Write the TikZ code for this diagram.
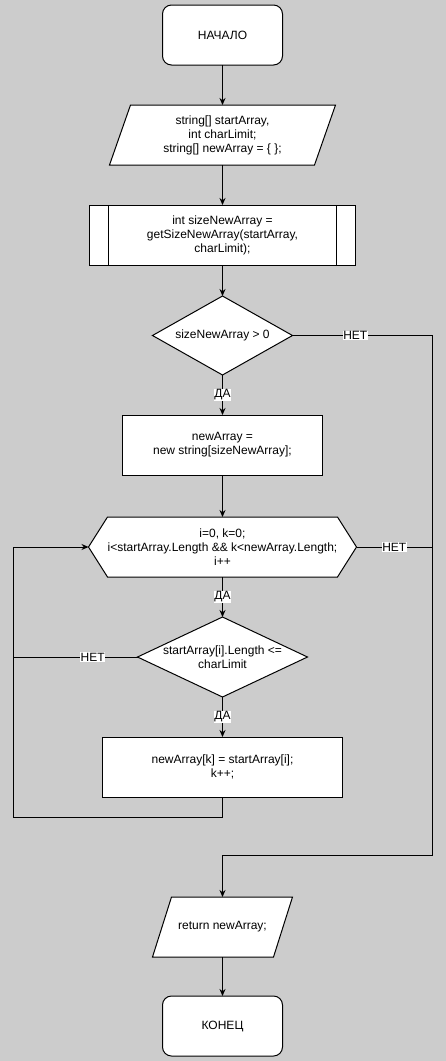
\documentclass[tikz,border=0pt]{standalone}
\usepackage{fontspec}
\setmainfont{Liberation Sans}
\usetikzlibrary{positioning,shapes.geometric,arrows.meta,backgrounds}
\definecolor{canvas}{HTML}{CCCCCC}
\tikzset{
  txt/.style     = {font=\fontsize{12}{14}\selectfont, align=center, outer sep=0pt},
  box/.style     = {txt, draw=black, fill=white, line width=1pt, inner sep=2pt},
  term/.style    = {box, rounded corners=9pt, minimum width=120pt, minimum height=60pt},
  io/.style      = {txt, inner sep=2pt, minimum height=60pt},
  proc/.style    = {box, minimum height=60pt},
  decide/.style  = {box, diamond, inner sep=0pt},
  loophex/.style = {txt, inner sep=2pt, minimum width=268pt, minimum height=60pt},
  outline/.style = {draw=black, fill=white, line width=1pt},
  flow/.style    = {-{Stealth[length=7pt,width=6pt]}, line width=1pt},
  link/.style    = {line width=1pt},
  lbl/.style     = {txt, fill=white, inner sep=0.5pt},
}
\begin{document}
\begin{tikzpicture}[x=1pt, y=1pt]
    \begin{pgfonlayer}{background}
      \fill[canvas] (0,0) rectangle (446,-1061);
    \end{pgfonlayer}
    % main column
    \node[term] (start) at (222.5,-35) {НАЧАЛО};
    \node[io, minimum width=226pt, below=40pt of start] (input) {string[] startArray,\\int charLimit;\\string[] newArray = \{ \};};
    \node[proc, minimum width=266pt, below=40pt of input] (size) {int sizeNewArray =\\getSizeNewArray(startArray,\\charLimit);};
    \node[decide, shape aspect=1.77, minimum width=140pt, minimum height=79pt, below=31pt of size] (cond) {sizeNewArray > 0};
    \node[proc, minimum width=200pt, below=40pt of cond] (alloc) {newArray =\\new string[sizeNewArray];};
    \node[loophex, below=42pt of alloc] (loop) {i=0, k=0;\\i<startArray.Length \&\& k<newArray.Length;\\i++};
    \node[decide, minimum width=170pt, minimum height=80pt, below=40pt of loop,
          label={[txt]center:{startArray[i].Length <=\\charLimit}}] (check) {};
    \node[proc, minimum width=240pt, below=40pt of check] (copy) {newArray[k] = startArray[i];\\k++;};
    \node[io, minimum width=140pt, below=100pt of copy] (ret) {return newArray;};
    \node[term, below=39pt of ret] (stop) {КОНЕЦ};
    % rails for the side branches
    \coordinate (leftrail) at (13,0);
    \coordinate (rightrail) at (432,0);

    % outlines drawn under the texts
    \begin{pgfonlayer}{background}
      \foreach \n/\s in {input/21, ret/19}
        \path[outline] ([xshift=\s]\n.north west) -- (\n.north east)
          -- ([xshift=-\s]\n.south east) -- (\n.south west) -- cycle;
      \path[outline] ([xshift=19]loop.north west) -- ([xshift=-19]loop.north east)
        -- (loop.east) -- ([xshift=-19]loop.south east) -- ([xshift=19]loop.south west)
        -- (loop.west) -- cycle;
    \end{pgfonlayer}
    \draw[link] ([xshift=19pt]size.north west) -- ([xshift=19pt]size.south west);
    \draw[link] ([xshift=-19pt]size.north east) -- ([xshift=-19pt]size.south east);

    \draw[flow] (start) -- (input);
    \draw[flow] (input) -- (size);
    \draw[flow] (size) -- (cond);
    \draw[flow] (cond) -- node[lbl]{ДА} (alloc);
    \draw[flow] (alloc) -- (loop);
    \draw[flow] (loop) -- node[lbl]{ДА} (check);
    \draw[flow] (check) -- node[lbl]{ДА} (copy);
    \draw[flow] (copy.south) -- ++(0,-20) -| (leftrail |- loop.west) -- (loop.west);
    \draw[link] (check.west) -- node[lbl,pos=0.36]{НЕТ} (leftrail |- check.west);
    \draw[link] (loop.east) -- node[lbl]{НЕТ} (rightrail |- loop.east);
    \draw[flow] (cond.east) -- node[lbl,pos=0.45]{НЕТ} (rightrail |- cond.east) |- ([yshift=42pt]ret.north) -- (ret.north);
    \draw[flow] (ret) -- (stop);
\end{tikzpicture}
\end{document}
